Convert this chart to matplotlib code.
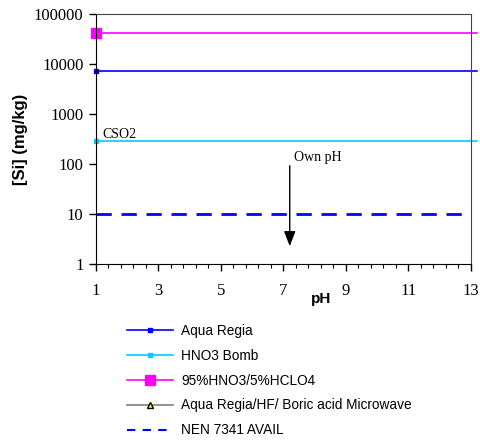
import numpy as np
import matplotlib.pyplot as plt
from matplotlib.lines import Line2D

# Datos
ph = [1, 13]
aqua_regia = [7200, 7200]
hno3_bomb = [290, 290]
hno3_hclo4 = [41500, 41500]
nen_avail = [10, 10]

fig = plt.figure(figsize=(4.81, 4.42), dpi=100)
ax = fig.add_axes([96/481, 1 - 264/442, (471-96)/481, 250/442])

serif = "Liberation Serif"
sans = "Liberation Sans"

ax.plot([1, 13.2], aqua_regia, color="#0000ff", lw=1.2, clip_on=False)
ax.plot([1], aqua_regia[:1], color="#0000ff", marker="s", ms=3, mec="#0000ff", clip_on=False)
ax.plot([1, 13.2], hno3_bomb, color="#00ccff", lw=1.2, clip_on=False)
ax.plot([1], hno3_bomb[:1], color="#00ccff", marker="s", ms=3.5, clip_on=False)
ax.plot([1, 13.2], hno3_hclo4, color="#ff00ff", lw=1.2, clip_on=False)
ax.plot([1], hno3_hclo4[:1], color="#ff00ff", marker="s", ms=7, clip_on=False)
ax.plot(ph, nen_avail, color="#0000ff", lw=2, dashes=(5.5, 3.5))

ax.set_yscale("log")
ax.set_ylim(1, 100000)
ax.set_xlim(1, 13)
ax.set_xticks([1, 3, 5, 7, 9, 11, 13])
ax.set_xticks(np.arange(1, 13.01, 0.4), minor=True)
ax.yaxis.set_minor_locator(plt.NullLocator())
ax.set_yticks([1, 10, 100, 1000, 10000, 100000])
ax.set_yticklabels(["1", "10", "100", "1000", "10000", "100000"])
ax.tick_params(axis="both", direction="out", labelsize=12, width=1, length=5)
ax.tick_params(axis="y", pad=4)
ax.tick_params(axis="x", which="minor", length=3, width=0.8)
ax.tick_params(axis="x", pad=9)
for lab in ax.get_xticklabels() + ax.get_yticklabels():
    lab.set_family(serif)
for side in ["top", "right"]:
    ax.spines[side].set_color("#444444")

ax.set_ylabel("[Si] (mg/kg)", fontsize=12, fontweight="bold", family=sans, labelpad=4)
ax.text(8.2, -0.14, "pH", fontsize=11, fontweight="bold", family=sans,
        ha="center", va="center", transform=ax.get_xaxis_transform())

# Anotaciones
ax.text(1.2, 295, "CSO2", fontsize=10, family=serif, va="bottom")
ax.text(7.35, 98, "Own pH", fontsize=10, family=serif, va="bottom")
ax.annotate("", xy=(7.2, 2.0), xytext=(7.2, 105),
            arrowprops=dict(arrowstyle="-|>,head_width=0.35,head_length=0.9",
                            color="black", lw=1.0))

# Leyenda
handles = [
    Line2D([], [], color="#0000ff", lw=1.2, marker="s", ms=2.5),
    Line2D([], [], color="#00ccff", lw=1.2, marker="s", ms=3.5),
    Line2D([], [], color="#ff00ff", lw=1.2, marker="s", ms=7),
    Line2D([], [], color="gray", lw=1.2, marker="^", ms=5, mfc="yellow", mec="black"),
    Line2D([], [], color="#0000ff", lw=1.5, dashes=(4, 3.5)),
]
labels = ["Aqua Regia", "HNO3 Bomb", "95%HNO3/5%HCLO4",
          "Aqua Regia/HF/ Boric acid Microwave", "NEN 7341 AVAIL"]
fig.legend(handles, labels, loc="upper left", bbox_to_anchor=(120/481, 1 - 317/442),
           frameon=False, prop={"family": sans, "size": 9.8}, handlelength=3.4,
           handletextpad=0.6, labelspacing=0.8, borderpad=0)

plt.savefig("out.png")
plt.close()
